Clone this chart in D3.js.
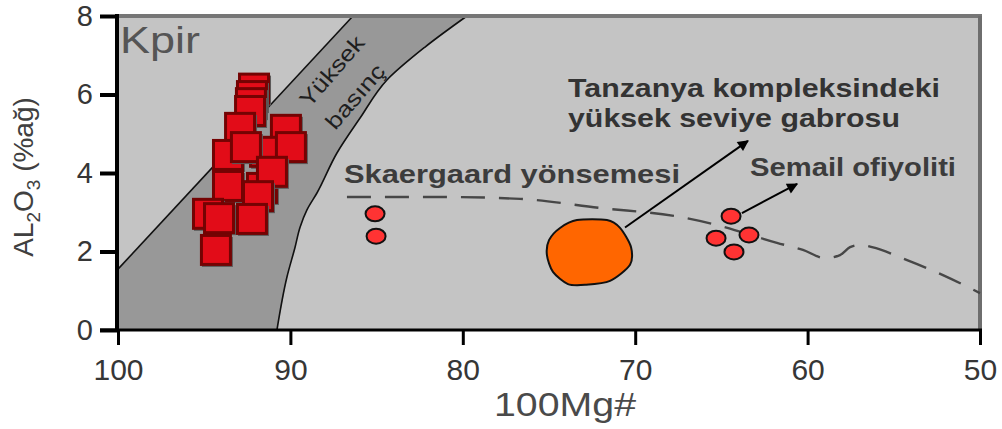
<!DOCTYPE html>
<html>
<head>
<meta charset="utf-8">
<script src="https://cdn.jsdelivr.net/npm/d3@7"></script>
<style>
  html, body { margin: 0; padding: 0; background: #fff; }
  svg { display: block; font-family: "Liberation Sans", Arial, sans-serif; }
</style>
</head>
<body>
<svg id="chart" width="1002" height="429"></svg>
<script>
// Axis ticks
const xTicks = [100, 90, 80, 70, 60, 50];
const yTicks = [0, 2, 4, 6, 8];

// Kpir samples (100Mg#, Al2O3 %)
const kpirMg = [92.11, 92.23, 92.29, 92.34, 92.92, 90.26, 93.62, 91.47, 92.58, 89.97,
                91.65, 91.07, 93.62, 91.88, 94.78, 94.14, 92.23, 94.32];
const kpirAl = [6.15, 5.96, 5.78, 5.58, 5.15, 5.10, 4.46, 4.54, 4.66, 4.66,
                3.62, 4.03, 3.67, 3.41, 2.96, 2.85, 2.83, 2.04];

// Skaergaard points
const skaerMg = [85.09, 85.03];
const skaerAl = [2.96, 2.39];

// Semail ophiolite points
const semailMg = [64.44, 65.31, 63.40, 64.27];
const semailAl = [2.90, 2.34, 2.42, 1.99];

// Tanzania high-level gabbro field outline
const gabbroMg = [73.38, 71.64, 70.88, 70.24, 70.30, 71.46, 72.91, 73.90, 74.77, 75.12, 75.00, 74.36];
const gabbroAl = [2.80, 2.80, 2.60, 2.11, 1.66, 1.25, 1.15, 1.17, 1.48, 1.91, 2.29, 2.60];

// Skaergaard trend
const trendMg = [86.72, 81.32, 76.68, 72.04, 67.40, 65.49, 61.78, 60.27, 58.99, 58.12, 57.54, 56.96, 56.26, 54.23, 52.15, 50.00];
const trendAl = [3.39, 3.39, 3.34, 3.11, 2.88, 2.70, 2.22, 2.04, 1.83, 1.91, 2.11, 2.17, 2.11, 1.78, 1.40, 0.94];

// High-pressure band boundaries
const bandLeftMg = [100, 86.37];
const bandLeftAl = [1.55, 8];
const bandRightMg = [79.76, 82.19, 84.40, 85.96, 87.30, 88.46, 89.04, 89.44, 89.73, 90.20, 90.78];
const bandRightAl = [8, 7.21, 6.37, 5.40, 4.51, 3.49, 3.06, 2.62, 2.11, 1.35, 0];

// Arrows [startMg, startAl, endMg, endAl]
const arrowGabbro = [70.59, 2.61, 63.46, 4.82];
const arrowSemail = [63.81, 2.98, 60.61, 3.72];

const svg = d3.select("#chart");
const x = d3.scaleLinear().domain([100, 50]).range([118, 980]);
const y = d3.scaleLinear().domain([0, 8]).range([330, 16]);

const zip = (a, b) => a.map((v, i) => [v, b[i]]);

// Plot background
svg.append("rect")
  .attr("x", x(100) - 1).attr("y", y(8))
  .attr("width", x(50) - x(100) + 1).attr("height", y(0) - y(8))
  .attr("fill", "#c4c4c4");

// High-pressure band
const bandPoly = [[100, 0]].concat(zip(bandLeftMg, bandLeftAl), zip(bandRightMg, bandRightAl));
svg.append("path")
  .attr("d", d3.line().x(d => x(d[0])).y(d => y(d[1]))(bandPoly) + "Z")
  .attr("fill", "#989898");
svg.append("path")
  .attr("d", d3.line().x(d => x(d[0])).y(d => y(d[1]))(zip(bandLeftMg, bandLeftAl)))
  .attr("fill", "none").attr("stroke", "#111").attr("stroke-width", 1.6);
svg.append("path")
  .attr("d", d3.line().curve(d3.curveMonotoneY).x(d => x(d[0])).y(d => y(d[1]))(zip(bandRightMg, bandRightAl)))
  .attr("fill", "none").attr("stroke", "#111").attr("stroke-width", 1.6);

// Band label
const bandLabel = [["Yüksek", 87.6, 6.6, 86], ["basınç", 86.25, 5.95, 78]];
bandLabel.forEach(([t, mg, al, len]) => {
  svg.append("text")
    .attr("transform", `translate(${x(mg)},${y(al)}) rotate(-49)`)
    .attr("text-anchor", "middle").attr("dy", "0.35em")
    .attr("font-size", 22).attr("fill", "#1e1e1e")
    .attr("textLength", len).attr("lengthAdjust", "spacingAndGlyphs")
    .text(t);
});

// Frame: top and right borders
svg.append("line").attr("x1", x(100)).attr("x2", x(50) + 2).attr("y1", y(8)).attr("y2", y(8))
  .attr("stroke", "#767676").attr("stroke-width", 4);
svg.append("line").attr("x1", x(50)).attr("x2", x(50)).attr("y1", y(8)).attr("y2", y(0))
  .attr("stroke", "#6e6e6e").attr("stroke-width", 4);

// Skaergaard trend
svg.append("path")
  .attr("d", d3.line().curve(d3.curveMonotoneX).x(d => x(d[0])).y(d => y(d[1]))(zip(trendMg, trendAl)))
  .attr("fill", "none").attr("stroke", "#474747").attr("stroke-width", 2.4)
  .attr("stroke-dasharray", "24,14");

// Arrow marker
svg.append("defs").append("marker")
  .attr("id", "head").attr("viewBox", "0 0 10 10")
  .attr("refX", 9).attr("refY", 5)
  .attr("markerUnits", "userSpaceOnUse")
  .attr("markerWidth", 14).attr("markerHeight", 11)
  .attr("orient", "auto")
  .append("path").attr("d", "M0,0L10,5L0,10Z").attr("fill", "#000");

[arrowGabbro, arrowSemail].forEach(a => {
  svg.append("line")
    .attr("x1", x(a[0])).attr("y1", y(a[1]))
    .attr("x2", x(a[2])).attr("y2", y(a[3]))
    .attr("stroke", "#000").attr("stroke-width", 2)
    .attr("marker-end", "url(#head)");
});

// Gabbro field
svg.append("path")
  .attr("d", d3.line().curve(d3.curveCardinalClosed.tension(0.2)).x(d => x(d[0])).y(d => y(d[1]))(zip(gabbroMg, gabbroAl)))
  .attr("fill", "#ff6600").attr("stroke", "#111").attr("stroke-width", 2);

// Skaergaard and Semail points
zip(skaerMg, skaerAl).concat(zip(semailMg, semailAl)).forEach(d => {
  svg.append("ellipse")
    .attr("cx", x(d[0])).attr("cy", y(d[1]))
    .attr("rx", 9.5).attr("ry", 7.5)
    .attr("fill", "#ff3333").attr("stroke", "#111").attr("stroke-width", 2);
});

// Kpir squares
const kp = svg.append("g");
zip(kpirMg, kpirAl).forEach(d => {
  const cx = x(d[0]), cy = y(d[1]);
  kp.append("rect").attr("x", cx - 14).attr("y", cy - 13).attr("width", 31).attr("height", 30)
    .attr("fill", "#5c5c5c");
  kp.append("rect").attr("x", cx - 14.5).attr("y", cy - 14.5).attr("width", 29).attr("height", 29)
    .attr("fill", "#e20c18").attr("stroke", "#740303").attr("stroke-width", 3);
});

// Axes
const xAxis = svg.append("g")
  .attr("transform", `translate(0,${y(0)})`)
  .call(d3.axisBottom(x).tickValues(xTicks).tickSize(15).tickPadding(14).tickFormat(d3.format("d")));
xAxis.select(".domain").remove();
xAxis.selectAll(".tick line").attr("stroke", "#000").attr("stroke-width", 3);
xAxis.selectAll(".tick text").attr("font-size", 30).attr("fill", "#363636")
  .attr("font-family", "Liberation Sans, Arial, sans-serif");

const yAxis = svg.append("g")
  .attr("transform", `translate(${x(100) - 1},0)`)
  .call(d3.axisLeft(y).tickValues(yTicks).tickSize(17).tickPadding(7).tickFormat(d3.format("d")));
yAxis.select(".domain").remove();
yAxis.selectAll(".tick line").attr("stroke", "#000").attr("stroke-width", 4);
yAxis.selectAll(".tick text").attr("font-size", 29).attr("fill", "#363636")
  .attr("font-family", "Liberation Sans, Arial, sans-serif");

// Axis lines
svg.append("line").attr("x1", x(100) - 1).attr("x2", x(100) - 1).attr("y1", y(8) - 2).attr("y2", y(0) + 2)
  .attr("stroke", "#000").attr("stroke-width", 4);
svg.append("line").attr("x1", x(100) - 18).attr("x2", x(50) + 2).attr("y1", y(0)).attr("y2", y(0))
  .attr("stroke", "#000").attr("stroke-width", 3);

// Axis titles
svg.append("text")
  .attr("x", 565).attr("y", 416).attr("text-anchor", "middle")
  .attr("font-size", 34).attr("fill", "#4a4a4a")
  .attr("textLength", 142).attr("lengthAdjust", "spacingAndGlyphs")
  .text("100Mg#");

const yt = svg.append("text")
  .attr("transform", "translate(33,177) rotate(-90)")
  .attr("text-anchor", "middle").attr("font-size", 28).attr("fill", "#404040");
yt.append("tspan").text("AL");
yt.append("tspan").attr("font-size", 19).attr("dy", 7).text("2");
yt.append("tspan").attr("dy", -7).text("O");
yt.append("tspan").attr("font-size", 19).attr("dy", 7).text("3");
yt.append("tspan").attr("dy", -7).text(" (%ağ)");

// Annotations
const notes = [
  ["Kpir", 120, 53, 37, "normal", "#555", 80],
  ["Tanzanya kompleksindeki", 568, 97, 25.5, "bold", "#333", 372],
  ["yüksek seviye gabrosu", 568, 127, 25.5, "bold", "#333", 332],
  ["Skaergaard yönsemesi", 344, 183, 26, "bold", "#3c3c3c", 336],
  ["Semail ofiyoliti", 750, 176, 26, "bold", "#3c3c3c", 206]
];
notes.forEach(([t, px, py, fs, fw, col, len]) => {
  svg.append("text")
    .attr("x", px).attr("y", py)
    .attr("font-size", fs).attr("font-weight", fw).attr("fill", col)
    .attr("textLength", len).attr("lengthAdjust", "spacingAndGlyphs")
    .text(t);
});
</script>
</body>
</html>
